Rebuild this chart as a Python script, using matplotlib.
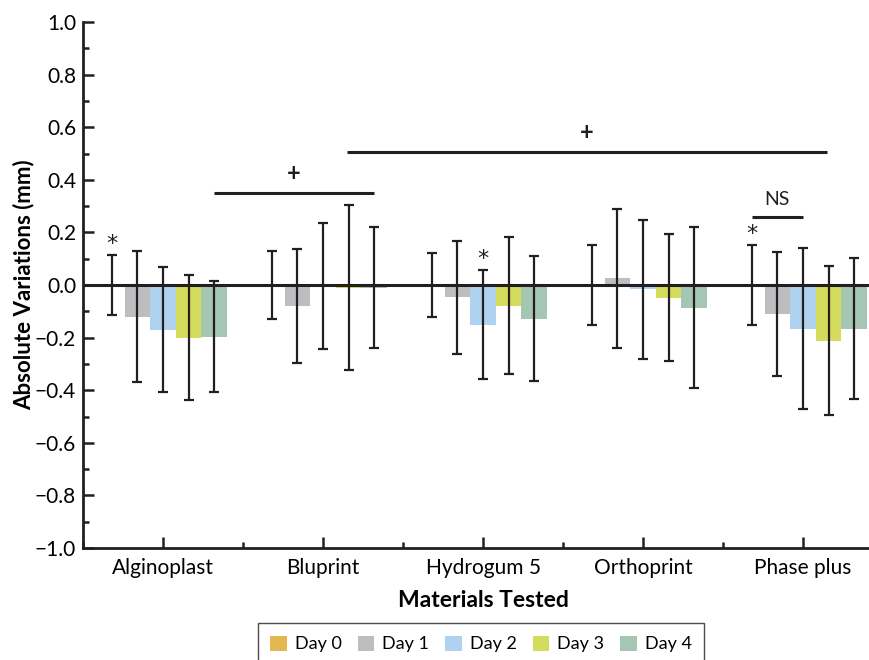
import numpy as np
import matplotlib
matplotlib.use("Agg")
import matplotlib.pyplot as plt
from matplotlib.ticker import MultipleLocator, FuncFormatter

plt.rcParams['font.family'] = ['Lato', 'DejaVu Sans']

materials = ['Alginoplast', 'Bluprint', 'Hydrogum 5', 'Orthoprint', 'Phase plus']
days = ['Day 0', 'Day 1', 'Day 2', 'Day 3', 'Day 4']
colors = ['#E3B851', '#BCBEC0', '#AED2EF', '#D5DB5C', '#A5C6B3']

# mean variation per day (rows) and material (columns)
means = [
    [0.0, 0.0, 0.0, 0.0, 0.0],
    [-0.12, -0.08, -0.047, 0.025, -0.109],
    [-0.17, -0.005, -0.151, -0.016, -0.166],
    [-0.20, -0.01, -0.078, -0.048, -0.212],
    [-0.196, -0.01, -0.128, -0.086, -0.166],
]
errs = [
    [0.114, 0.13, 0.12, 0.153, 0.151],
    [0.25, 0.215, 0.215, 0.263, 0.236],
    [0.238, 0.24, 0.208, 0.264, 0.306],
    [0.237, 0.314, 0.261, 0.241, 0.283],
    [0.21, 0.231, 0.237, 0.306, 0.268],
]

# significance markers: (material index, day index)
stars = [(0, 0), (2, 2), (4, 0)]
# bracket lines: (x start, x end, y, label)
brackets = [
    (0.32, 1.32, 0.35, '+'),
    (1.15, 4.15, 0.505, '+'),
    (3.68, 4.0, 0.258, 'NS'),
]

fig = plt.figure(figsize=(8.69, 6.60), dpi=100)
ax = fig.add_axes([83 / 869, 112 / 660, 800 / 869, 526 / 660])

x = np.arange(len(materials))
width = 0.16
for d in range(len(days)):
    pos = x + (d - 2) * width
    ax.bar(pos, means[d], width, color=colors[d], label=days[d], zorder=2)
    ax.errorbar(pos, means[d], yerr=errs[d], fmt='none', ecolor='#231f20',
                elinewidth=1.6, capsize=3.6, capthick=1.6, zorder=3)

ax.axhline(0, color='#231f20', lw=2.2, zorder=4)

for m, d in stars:
    px = m + (d - 2) * width
    top = means[d][m] + errs[d][m]
    ax.text(px, top + 0.005, '*', ha='center', va='bottom', fontsize=16,
            color='#231f20', family='DejaVu Sans')

for x0, x1, yy, lab in brackets:
    ax.plot([x0, x1], [yy, yy], color='#231f20', lw=2.2, solid_capstyle='butt')
    if lab == '+':
        ax.text((x0 + x1) / 2, yy + 0.03, lab, ha='center', va='bottom',
                fontsize=17, fontweight='bold', color='#231f20')
    else:
        ax.text((x0 + x1) / 2, yy + 0.035, lab, ha='center', va='bottom',
                fontsize=14, color='#231f20')

ax.set_xlim(-0.5, 4.5)
ax.set_ylim(-1.0, 1.0)
ax.set_xticks(x)
ax.set_xticklabels(materials, fontsize=15)
ax.set_xticks(np.arange(-0.5, 5, 1), minor=True)
ax.yaxis.set_major_locator(MultipleLocator(0.2))
ax.yaxis.set_minor_locator(MultipleLocator(0.1))
ax.yaxis.set_major_formatter(FuncFormatter(lambda v, p: f'{v:.1f}'.replace('-', '\u2212')))
ax.tick_params(axis='y', labelsize=15, pad=5)
ax.tick_params(which='major', direction='in', length=8, width=1.8, color='#231f20')
ax.tick_params(which='minor', direction='in', length=4.5, width=1.8, color='#231f20')
ax.tick_params(axis='x', pad=7)

for s in ['top', 'right']:
    ax.spines[s].set_visible(False)
for s in ['left', 'bottom']:
    ax.spines[s].set_linewidth(2)
    ax.spines[s].set_color('#231f20')

ax.set_ylabel('Absolute Variations (mm)', fontsize=16, fontweight='bold', labelpad=0)
ax.set_xlabel('Materials Tested', fontsize=16.5, fontweight='bold', labelpad=9)

leg = fig.legend(loc='upper center', bbox_to_anchor=(481 / 869, 37 / 660), ncol=5,
                 fontsize=13, frameon=True, fancybox=False, handlelength=0.9,
                 handleheight=0.9, handletextpad=0.45, columnspacing=0.9,
                 borderpad=0.7, borderaxespad=0)
leg.get_frame().set_edgecolor('#231f20')
leg.get_frame().set_linewidth(1.0)

fig.savefig('out.png', dpi=100)
